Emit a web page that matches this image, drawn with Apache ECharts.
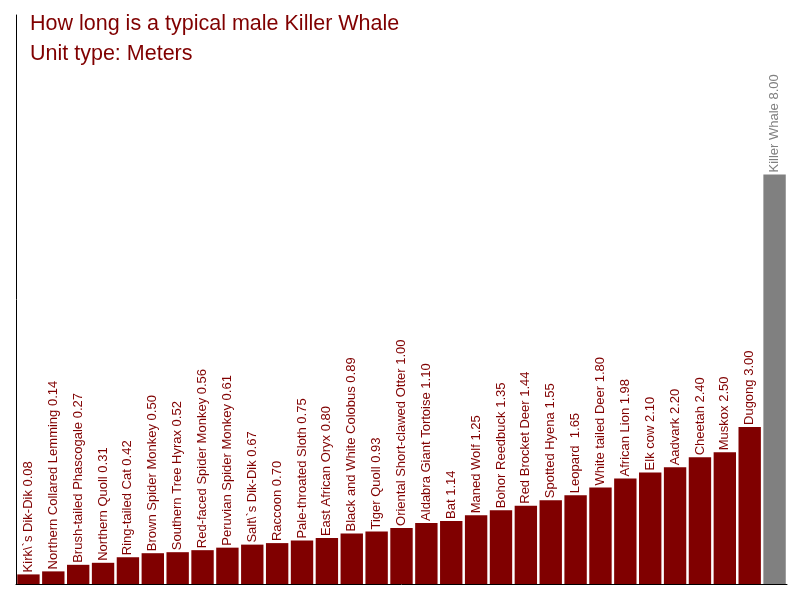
<!DOCTYPE html>
<html>
<head>
<meta charset="utf-8">
<script src="https://cdn.jsdelivr.net/npm/echarts@6/dist/echarts.min.js"></script>
<style>
  html, body { margin: 0; padding: 0; background: #fff; }
  #view { width: 800px; height: 600px; }
</style>
</head>
<body>
<div id="view"></div>
<script>
var animals = [
    'Kirk\\`s Dik-Dik', 'Northern Collared Lemming', 'Brush-tailed Phascogale', 'Northern Quoll',
    'Ring-tailed Cat', 'Brown Spider Monkey', 'Southern Tree Hyrax', 'Red-faced Spider Monkey',
    'Peruvian Spider Monkey', 'Salt\\`s Dik-Dik', 'Raccoon', 'Pale-throated Sloth',
    'East African Oryx', 'Black and White Colobus', 'Tiger Quoll', 'Oriental Short-clawed Otter',
    'Aldabra Giant Tortoise', 'Bat', 'Maned Wolf', 'Bohor Reedbuck', 'Red Brocket Deer',
    'Spotted Hyena', 'Leopard ', 'White tailed Deer', 'African Lion', 'Elk cow', 'Aadvark',
    'Cheetah', 'Muskox', 'Dugong', 'Killer Whale'
];
var lengths = [
    0.08, 0.14, 0.27, 0.31, 0.42, 0.50, 0.52, 0.56, 0.61, 0.67, 0.70, 0.75, 0.80, 0.89, 0.93,
    1.00, 1.10, 1.14, 1.25, 1.35, 1.44, 1.55, 1.65, 1.80, 1.98, 2.10, 2.20, 2.40, 2.50, 3.00, 8.00
];
var highlight = 'Killer Whale';

// the original axis starts a little below zero and bars grow from the axis line
var yMin = -0.11, yMax = 11.16;

var myChart = echarts.init(document.getElementById('view'));

function renderBar(params, api) {
    var i = api.value(0), v = api.value(1);
    var top = api.coord([i, v]);
    var base = api.coord([i, yMin]);
    var bw = api.size([1, 0])[0] * 0.9;
    var color = animals[i] === highlight ? '#808080' : '#800000';
    return {
        type: 'group',
        children: [{
            type: 'rect',
            shape: { x: top[0] - bw / 2, y: top[1], width: bw, height: base[1] - top[1] },
            style: { fill: color }
        }, {
            type: 'text',
            x: top[0],
            y: top[1] - 2,
            rotation: Math.PI / 2,
            style: {
                text: animals[i] + ' ' + v.toFixed(2),
                fill: color,
                font: '13px "Liberation Sans", Arial, sans-serif',
                textAlign: 'left',
                textVerticalAlign: 'middle'
            }
        }]
    };
}

option = {
    animation: false,
    title: {
        text: 'How long is a typical male Killer Whale\nUnit type: Meters',
        left: 25,
        top: 4,
        textStyle: {
            color: '#800000',
            fontFamily: 'Liberation Sans',
            fontWeight: 'normal',
            fontSize: 21.5,
            lineHeight: 30
        }
    },
    grid: { left: 16, right: 13, top: 15, bottom: 16, containLabel: false },
    xAxis: {
        type: 'category',
        data: animals,
        axisLine: { onZero: false, lineStyle: { color: '#000', width: 1 } },
        axisTick: { show: false },
        axisLabel: { show: false }
    },
    yAxis: {
        type: 'value',
        min: yMin,
        max: yMax,
        splitLine: { show: false },
        axisLine: { show: true, lineStyle: { color: '#000', width: 1 } },
        axisTick: { show: false },
        axisLabel: { show: false }
    },
    series: [{
        type: 'custom',
        renderItem: renderBar,
        encode: { x: 0, y: 1 },
        data: lengths.map(function (v, i) { return [i, v]; })
    }]
};

myChart.setOption(option);
</script>
</body>
</html>
